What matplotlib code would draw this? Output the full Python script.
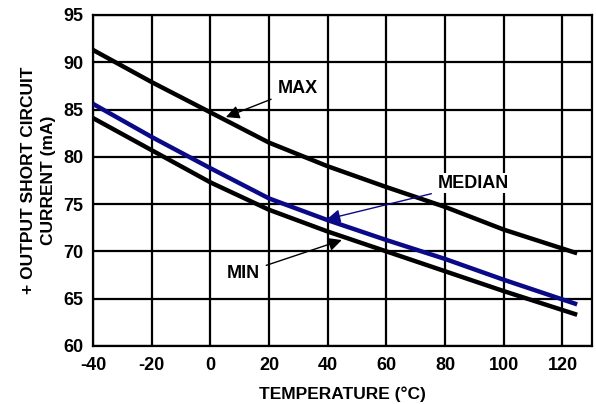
import matplotlib
matplotlib.use('Agg')
import matplotlib.pyplot as plt

plt.rcParams['font.family'] = ['Liberation Sans', 'DejaVu Sans']
plt.rcParams['font.weight'] = 'bold'
plt.rcParams['axes.unicode_minus'] = False  # plain hyphen like the reference

# temperature (°C) and output short circuit current (mA)
temp = [-40, -20, 0, 20, 40, 60, 80, 100, 125]
i_max = [91.3, 87.9, 84.7, 81.5, 79.0, 76.8, 74.7, 72.3, 69.8]
i_median = [85.6, 82.1, 78.8, 75.6, 73.3, 71.2, 69.2, 67.0, 64.4]
i_min = [84.1, 80.7, 77.3, 74.4, 72.1, 70.0, 67.9, 65.8, 63.3]

x_ticks = [-40, -20, 0, 20, 40, 60, 80, 100, 120]
y_ticks = [60, 65, 70, 75, 80, 85, 90, 95]

fig = plt.figure(figsize=(5.96, 4.04), dpi=100)
ax = fig.add_axes([0.156, 0.1436, 0.837, 0.8194])

ax.plot(temp, i_max, color='black', lw=3.2, solid_capstyle='butt', zorder=3)
ax.plot(temp, i_min, color='black', lw=3.2, solid_capstyle='butt', zorder=3)
ax.plot(temp, i_median, color='#0a0a88', lw=3.2, solid_capstyle='butt', zorder=4)

ax.set_xlim(-40, 130)
ax.set_ylim(60, 95)
ax.set_xticks(x_ticks)
ax.set_yticks(y_ticks)
ax.tick_params(length=0, labelsize=13)
ax.tick_params(axis='x', pad=8)
ax.tick_params(axis='y', pad=7)
for lab in ax.get_xticklabels() + ax.get_yticklabels():
    lab.set_fontweight('bold')
ax.grid(True, color='black', lw=1.6)
ax.set_axisbelow(True)
for s in ax.spines.values():
    s.set_linewidth(1.6)

ax.set_xlabel('TEMPERATURE (°C)', fontsize=12.5, fontweight='bold', labelpad=9)
ax.set_ylabel('+ OUTPUT SHORT CIRCUIT\nCURRENT (mA)', fontsize=12.5,
              fontweight='bold', labelpad=5, linespacing=1.45)

box = dict(facecolor='white', edgecolor='none', pad=1)
ax.annotate('MAX', xy=(5.3, 84.2), xytext=(29.8, 87.2), ha='center', va='center',
            fontsize=13, fontweight='bold', bbox=box, zorder=5,
            arrowprops=dict(arrowstyle='-|>', color='black', lw=1,
                            mutation_scale=20, shrinkA=4, shrinkB=0))
ax.annotate('MEDIAN', xy=(39.7, 73.4), xytext=(89.8, 77.2), ha='center', va='center',
            fontsize=13, fontweight='bold', bbox=box, zorder=5,
            arrowprops=dict(arrowstyle='-|>', color='#0a0a88', lw=1,
                            mutation_scale=20, shrinkA=4, shrinkB=0))
ax.annotate('MIN', xy=(44.8, 71.2), xytext=(11.1, 67.7), ha='center', va='center',
            fontsize=13, fontweight='bold', bbox=box, zorder=5,
            arrowprops=dict(arrowstyle='-|>', color='black', lw=1,
                            mutation_scale=20, shrinkA=4, shrinkB=0))

fig.savefig('out.png', dpi=100)
